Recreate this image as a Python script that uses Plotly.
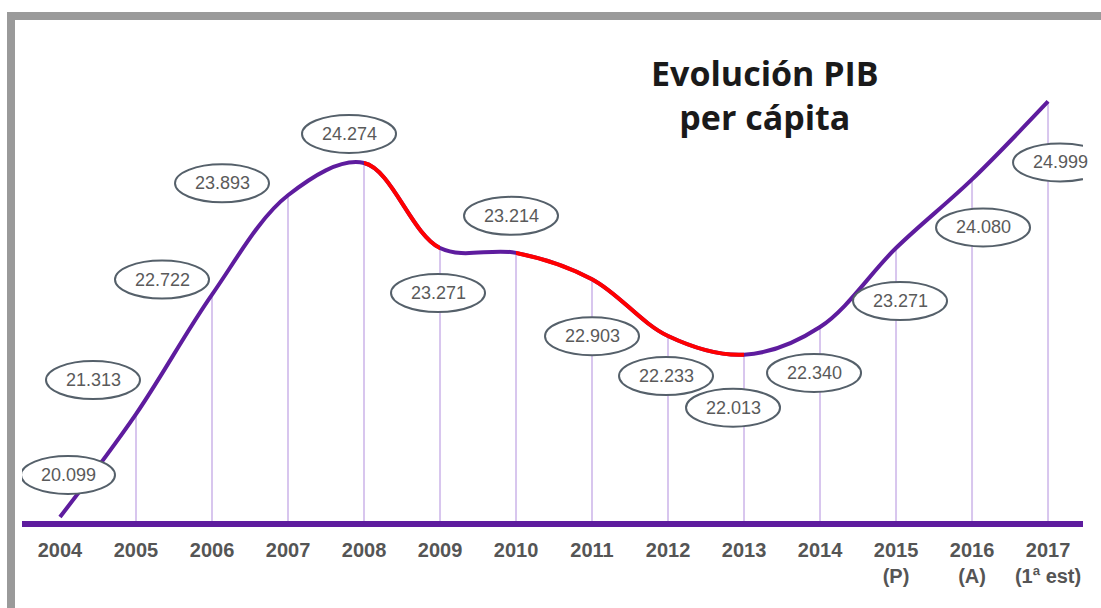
import plotly.graph_objects as go

# ---------------- data ----------------
years = [2004, 2005, 2006, 2007, 2008, 2009, 2010, 2011, 2012, 2013, 2014, 2015, 2016, 2017]
pib = [20.099, 21.313, 22.722, 23.893, 24.274, 23.271, 23.214, 22.903, 22.233, 22.013,
       22.340, 23.271, 24.080, 24.999]
value_labels = ["20.099", "21.313", "22.722", "23.893", "24.274", "23.271", "23.214",
                "22.903", "22.233", "22.013", "22.340", "23.271", "24.080", "24.999"]
tick_labels = ["2004", "2005", "2006", "2007", "2008", "2009", "2010", "2011", "2012",
               "2013", "2014", "2015<br>(P)", "2016<br>(A)", "2017<br>(1ª est)"]
red_spans = [(2008, 2009), (2010, 2013)]

# ---------------- layout / style ----------------
W, H = 1101, 608
ML, MR, MT, MB = 22, 18, 40, 87
X_RANGE = [2003.5, 2017.46]
Y_RANGE = [20.052, 25.724]
PURPLE = "#5e1c9e"
RED = "#ff0000"
STEM = "#d8c6ee"
# label ellipse offsets (pixels, dx right, dy up) relative to each point
label_offsets = [(8, 42), (-43, 34), (-50, 15), (-66, 12), (-15, 29), (-2, -45), (-5, 37),
                 (0, -57), (-2, -40), (-11, -53), (-6, -46), (4, -53), (11, -48), (12, -61)]
EW, EH = 47, 19

fig = go.Figure()

# vertical stems from baseline to each point
sx, sy = [], []
for yr, v in zip(years[1:], pib[1:]):
    sx += [yr, yr, None]
    sy += [Y_RANGE[0], v, None]
fig.add_trace(go.Scatter(x=sx, y=sy, mode="lines", line=dict(color=STEM, width=2),
                         hoverinfo="skip", showlegend=False))

# main purple curve
fig.add_trace(go.Scatter(x=years, y=pib, mode="lines",
                         line=dict(color=PURPLE, width=4, shape="spline", simplify=False),
                         hoverinfo="skip", showlegend=False))

# red segments: same curve on overlay axes whose domain clips to the span
span_w = X_RANGE[1] - X_RANGE[0]
axes_extra = {}
for i, (a, b) in enumerate(red_spans):
    ax_id = i + 2
    fig.add_trace(go.Scatter(x=years, y=pib, mode="lines", xaxis=f"x{ax_id}", yaxis="y",
                             line=dict(color=RED, width=4, shape="spline", simplify=False),
                             hoverinfo="skip", showlegend=False))
    axes_extra[f"xaxis{ax_id}"] = dict(
        domain=[(a - X_RANGE[0]) / span_w, (b - X_RANGE[0]) / span_w],
        range=[a, b], anchor="y", visible=False, fixedrange=True)

shapes = []
annotations = []
for yr, v, lab, (dx, dy) in zip(years, pib, value_labels, label_offsets):
    shapes.append(dict(type="circle", xref="x", yref="y", xsizemode="pixel", ysizemode="pixel",
                       xanchor=yr, yanchor=v, x0=dx - EW, x1=dx + EW, y0=dy - EH, y1=dy + EH,
                       line=dict(color="#55606a", width=2), fillcolor="white", layer="above"))
    annotations.append(dict(x=yr, y=v, xref="x", yref="y", text=lab, showarrow=False,
                            xshift=dx, yshift=dy,
                            font=dict(family="Liberation Sans", size=18, color="#5a5a5a")))

# outer grey frame
pw = W - ML - MR
ph = H - MT - MB
shapes.append(dict(type="rect", xref="paper", yref="paper", layer="below",
                   x0=(11 - ML) / pw, x1=(W + 20 - ML) / pw,
                   y0=(H - MT - 700) / ph, y1=(H - MB - 16) / ph,
                   line=dict(color="#9a9a9a", width=8), fillcolor="rgba(0,0,0,0)"))

annotations.append(dict(xref="paper", yref="paper", x=(765 - ML) / pw, y=(H - MB - 95) / ph,
                        text="<b>Evolución PIB<br>per cápita</b>", showarrow=False,
                        align="center", xanchor="center", yanchor="middle",
                        font=dict(family="Open Sans", size=34, color="#1a1a1a")))

fig.update_layout(
    width=W, height=H,
    margin=dict(l=ML, r=MR, t=MT, b=MB),
    paper_bgcolor="white", plot_bgcolor="rgba(0,0,0,0)",
    showlegend=False,
    xaxis=dict(range=X_RANGE, tickvals=years, ticktext=tick_labels, showgrid=False,
               zeroline=False, showline=True, linecolor=PURPLE, linewidth=6, ticks="",
               ticklabelstandoff=6,
               tickfont=dict(family="Liberation Sans", size=20, color="#555555", weight="bold"),
               fixedrange=True),
    yaxis=dict(range=Y_RANGE, visible=False, showgrid=False, zeroline=False, fixedrange=True),
    shapes=shapes, annotations=annotations,
    **axes_extra,
)

fig.write_html("out.html", config={"displayModeBar": False},
               post_script="document.body.style.margin='0';document.body.style.overflow='hidden';")
